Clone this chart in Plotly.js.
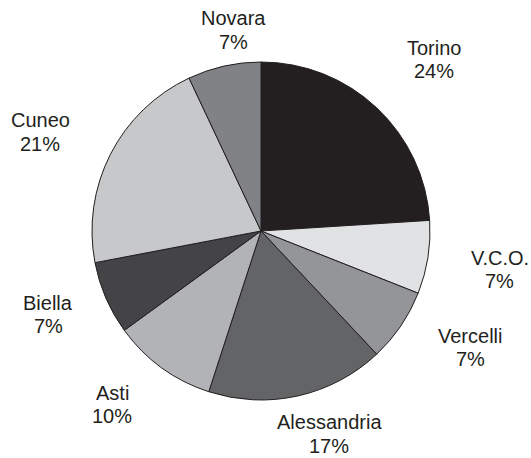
<!DOCTYPE html>
<html>
<head>
<meta charset="utf-8">
<script src="https://cdn.plot.ly/plotly-3.0.1.min.js"></script>
<style>html,body{margin:0;padding:0;background:#fff;}#chart{width:531px;height:458px;}</style>
</head>
<body>
<div id="chart"></div>
<script>
// Data
var provinces = ["Torino", "V.C.O.", "Vercelli", "Alessandria", "Asti", "Biella", "Cuneo", "Novara"];
var shares = [24, 7, 7, 17, 10, 7, 21, 7];
var sliceColors = ["#231f20", "#e1e2e3", "#939598", "#636466", "#b1b3b6", "#444345", "#c7c8ca", "#808285"];

// Label placement (pixel centres of the name line; layout only)
var labelPos = {
  "Torino": [434, 47.5], "V.C.O.": [500, 257.5], "Vercelli": [470, 335.5], "Alessandria": [329, 422],
  "Asti": [112, 392.5], "Biella": [48, 302.5], "Cuneo": [40, 120.5], "Novara": [233, 18]
};
var lineGap = 23.5;
var W = 531, H = 458;
var cx = 261, cy = 231, R = 169;
var labelFont = {family: "Liberation Sans, Arial, sans-serif", size: 20, color: "#231f20"};

var annotations = [];
provinces.forEach(function (p, i) {
  var pos = labelPos[p];
  [p, shares[i] + "%"].forEach(function (t, k) {
    annotations.push({
      text: t,
      x: pos[0] / W, y: 1 - (pos[1] + k * lineGap) / H,
      xref: "paper", yref: "paper",
      xanchor: "center", yanchor: "middle",
      showarrow: false,
      font: labelFont
    });
  });
});

var trace = {
  type: "pie",
  labels: provinces,
  values: shares,
  sort: false,
  direction: "clockwise",
  rotation: 0,
  textinfo: "none",
  hoverinfo: "label+percent",
  marker: {colors: sliceColors, line: {color: "#231f20", width: 1}},
  domain: {x: [(cx - R) / W, (cx + R) / W], y: [(H - cy - R) / H, (H - cy + R) / H]},
  showlegend: false
};

var layout = {
  width: W, height: H,
  margin: {l: 0, r: 0, t: 0, b: 0},
  paper_bgcolor: "#ffffff",
  showlegend: false,
  annotations: annotations
};

Plotly.newPlot("chart", [trace], layout, {displayModeBar: false, staticPlot: true});
</script>
</body>
</html>
